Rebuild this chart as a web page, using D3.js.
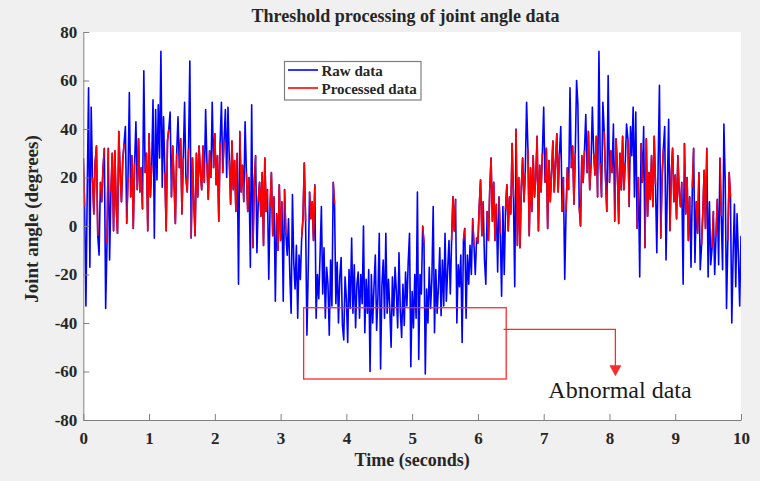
<!DOCTYPE html>
<html>
<head>
<meta charset="utf-8">
<script src="https://cdn.jsdelivr.net/npm/d3@7"></script>
<style>
  html, body { margin: 0; padding: 0; background: #f0f0f0; }
  svg { display: block; }
</style>
</head>
<body>
<svg id="chart" width="760" height="481"></svg>
<script>
// ---------------- data ----------------
const chartTitle = "Threshold processing of joint angle data";
const xAxisTitle = "Time (seconds)";
const yAxisTitle = "Joint angle (degrees)";
const seriesNames = ["Raw data", "Processed data"];
const sampleInterval = 0.02;           // seconds between samples
const thresholdLow = -10;              // processing thresholds (degrees)
const thresholdHigh = 40;
const xTickValues = [0, 1, 2, 3, 4, 5, 6, 7, 8, 9, 10];
const yTickValues = [-80, -60, -40, -20, 0, 20, 40, 60, 80];
const annotationText = "Abnormal data";

// raw joint angle, one value per sample (degrees), 0.2 s per row
const rawAngle = [
  28, 8, -33, 15, 57, -17, 49, 20, 5, 26,
  33, -4, -12, 18, 10, 24, 32, -34, -7, 32,
  -14, 14, 30, -2, 31, 8, -3, 39, 22, 10,
  27, 34, 41, 1, 20, 55, 12, 29, -1, 26,
  43, 15, 36, 14, 24, 7, 64, 22, 30, -2,
  38, 12, 25, 52, -5, 48, 19, 50, 28, 72,
  16, 45, 22, -2, 35, 40, 47, 12, 33, 18,
  1, 30, 45, 24, 36, 5, 28, 51, 20, 14,
  32, 68, -5, 28, 10, -4, 30, 12, 33, 22,
  15, 33, 18, 48, 26, 11, 31, 20, 51, 24,
  38, 17, 29, 2, 34, 51, 22, 35, 48, 20,
  49, 27, 9, 35, 15, 27, 6, 30, -24, 39,
  14, 25, 10, 43, 22, 6, 20, -17, 50, -9,
  18, 29, -11, 10, 18, 4, 22, -8, 28, 6,
  15, -22, 8, 22, -4, 12, -31, 5, -10, 17,
  -6, 10, -31, 15, -3, -12, 3, -20, -36, 13,
  -15, -26, -8, -38, -12, -22, -5, 3, 26, 2,
  -45, -18, 14, 3, 10, -6, 17, -38, -20, -30,
  -12, 8, -28, -9, -38, -17, -24, -45, -14, -33,
  18, 9, -32, -15, -40, -21, -13, -41, -47, -21,
  -30, -48, -18, -34, -5, -36, -16, -42, -24, -19,
  -38, -20, -32, 0, -44, -22, -36, -18, -60, -20,
  -40, -25, -12, -43, -29, -3, -59, -25, -14, -38,
  -3, -36, -22, -34, -50, -21, -37, -17, -27, -42,
  -11, -35, -46, -24, -41, -19, -33, -15, -3, -58,
  -27, -42, -20, -38, 14, -55, -20, -28, 0, -7,
  -61, -26, -40, -17, -34, -22, 8, -44, -18, -36,
  -25, -9, -37, -14, -33, -3, -31, -18, -6, -28,
  -6, 12, -2, 11, -40, -16, -25, -12, -48, -6,
  -1, -38, -12, -24, -8, -20, 3, -8, -20, -5,
  -7, 8, 19, -4, 10, -14, -24, 6, -6, 15,
  28, 2, 18, -6, 9, -19, 12, -3, -29, 8,
  -20, 7, 17, -2, 12, 5, 34, 12, -25, 40,
  -8, 20, -9, 16, 28, 10, 22, 51, 32, -4,
  24, 6, 29, 12, 20, 37, -2, 25, 14, 30,
  49, 18, 32, -1, 27, 10, 22, 35, 14, 26,
  38, 14, 30, 41, 6, 20, -22, 6, 24, 15,
  57, 24, 33, 9, 30, 60, 50, 8, 0, 29,
  18, 31, 46, 22, 39, 15, 26, 49, 30, 21,
  37, 12, 72, 26, 12, 51, 39, 20, 6, 62,
  18, 31, 22, 42, 2, 36, 24, 1, 30, 15,
  37, 15, 26, 42, 36, 8, 41, 29, 49, 12,
  47, -1, 20, -21, 34, 18, 41, -9, 36, 4,
  22, 11, 29, 8, 37, 17, -11, 25, 58, -5,
  20, 32, 41, -14, 16, 44, -2, 22, 32, 10,
  21, 3, 29, 14, 8, 18, -24, 34, 5, 20,
  -6, 12, -17, 16, 32, -15, 10, -3, 22, -18,
  -8, 6, 23, -1, 32, -21, 10, -16, -9, 6,
  -20, -4, 11, -16, 28, 4, -18, 42, 18, -34,
  -6, 22, 12, -40, -12, 9, -25, 5, -12, -33,
  -4
];

// annotation geometry in data units
const abnormalBox = { t0: 3.35, t1: 6.43, v0: -33.7, v1: -63.1 };
const callout = { tStart: 6.39, v: -42.6, tTurn: 8.09, vTip: -62 };
const labelPos = { t: 8.16, v: -70.9 };

// ---------------- derived series ----------------
const rawSeries = rawAngle.map((v, i) => ({ t: i * sampleInterval, v }));
const processedSeries = rawAngle.map((v, i) => ({
  t: i * sampleInterval,
  v: (v >= thresholdLow && v <= thresholdHigh) ? v : null
}));

// ---------------- layout ----------------
const svg = d3.select("#chart");
const W = 760, H = 481;
const plot = { left: 83.3, right: 741, top: 32, bottom: 420 };
const serif = "'Liberation Serif', 'Times New Roman', Times, serif";
const textColor = "#262626";
const axisColor = "#808080";

svg.append("rect").attr("width", W).attr("height", H).attr("fill", "#f0f0f0");
svg.append("rect")
  .attr("x", plot.left).attr("y", plot.top)
  .attr("width", plot.right - plot.left).attr("height", plot.bottom - plot.top)
  .attr("fill", "#ffffff");

const x = d3.scaleLinear().domain([0, 10]).range([plot.left, plot.right]);
const y = d3.scaleLinear().domain([-80, 80]).range([plot.bottom, plot.top]);

svg.append("defs").append("clipPath").attr("id", "plotClip")
  .append("rect")
  .attr("x", plot.left).attr("y", plot.top)
  .attr("width", plot.right - plot.left).attr("height", plot.bottom - plot.top);

// ---------------- lines ----------------
const line = d3.line()
  .defined(d => d.v !== null)
  .x(d => x(d.t))
  .y(d => y(d.v));

const lines = svg.append("g").attr("clip-path", "url(#plotClip)");
lines.append("path").datum(rawSeries)
  .attr("d", line)
  .attr("fill", "none").attr("stroke", "#0000ff")
  .attr("stroke-width", 1.6).attr("stroke-linejoin", "round");
lines.append("path").datum(processedSeries)
  .attr("d", line)
  .attr("fill", "none").attr("stroke", "#ff0000")
  .attr("stroke-width", 1.6).attr("stroke-linejoin", "round");

// ---------------- axes ----------------
const xAxis = d3.axisBottom(x).tickValues(xTickValues).tickFormat(d => String(d))
  .tickSizeInner(-6).tickSizeOuter(0).tickPadding(12);
const yAxis = d3.axisLeft(y).tickValues(yTickValues).tickFormat(d => String(d))
  .tickSizeInner(-6).tickSizeOuter(0).tickPadding(6);

const gx = svg.append("g").attr("transform", `translate(0,${plot.bottom})`).call(xAxis);
const gy = svg.append("g").attr("transform", `translate(${plot.left},0)`).call(yAxis);

[gx, gy].forEach(g => {
  g.select(".domain").attr("stroke", axisColor).attr("stroke-width", 1);
  g.selectAll(".tick line").attr("stroke", axisColor).attr("stroke-width", 1);
  g.selectAll(".tick text")
    .attr("fill", textColor)
    .style("font-family", serif)
    .style("font-weight", "bold")
    .style("font-size", "17px");
});

// ---------------- titles ----------------
svg.append("text")
  .attr("x", 405.5).attr("y", 22)
  .attr("text-anchor", "middle")
  .attr("fill", textColor)
  .style("font-family", serif).style("font-weight", "bold").style("font-size", "18px")
  .text(chartTitle);

svg.append("text")
  .attr("x", (plot.left + plot.right) / 2).attr("y", 466)
  .attr("text-anchor", "middle")
  .attr("fill", textColor)
  .style("font-family", serif).style("font-weight", "bold").style("font-size", "18px")
  .text(xAxisTitle);

svg.append("text")
  .attr("transform", `translate(38,219) rotate(-90)`)
  .attr("text-anchor", "middle")
  .attr("fill", textColor)
  .style("font-family", serif).style("font-weight", "bold").style("font-size", "19px")
  .text(yAxisTitle);

// ---------------- legend ----------------
const legend = svg.append("g");
legend.append("rect")
  .attr("x", 284.5).attr("y", 61.5).attr("width", 136.5).attr("height", 38.5)
  .attr("fill", "#ffffff").attr("stroke", "#7f7f7f").attr("stroke-width", 1.2);
const legendColors = ["#0000ff", "#ff0000"];
seriesNames.forEach((name, i) => {
  const ly = 70 + i * 18;
  legend.append("line")
    .attr("x1", 288).attr("x2", 318).attr("y1", ly).attr("y2", ly)
    .attr("stroke", legendColors[i]).attr("stroke-width", 1.6);
  legend.append("text")
    .attr("x", 321.5).attr("y", ly + 5.5)
    .attr("fill", textColor)
    .style("font-family", serif).style("font-weight", "bold").style("font-size", "15px")
    .text(name);
});

// ---------------- annotation ----------------
const annColor = "#ff2a2a";
const ann = svg.append("g");
ann.append("rect")
  .attr("x", x(abnormalBox.t0)).attr("y", y(abnormalBox.v0))
  .attr("width", x(abnormalBox.t1) - x(abnormalBox.t0))
  .attr("height", y(abnormalBox.v1) - y(abnormalBox.v0))
  .attr("fill", "none").attr("stroke", annColor).attr("stroke-width", 1.3);

const tipX = x(callout.tTurn), tipY = y(callout.vTip);
ann.append("path")
  .attr("d", `M${x(callout.tStart)},${y(callout.v)}H${tipX}V${tipY - 10}`)
  .attr("fill", "none").attr("stroke", annColor).attr("stroke-width", 1.3);
ann.append("path")
  .attr("d", `M${tipX - 6},${tipY - 11}L${tipX + 6},${tipY - 11}L${tipX},${tipY}Z`)
  .attr("fill", annColor);

svg.append("text")
  .attr("x", x(labelPos.t)).attr("y", y(labelPos.v))
  .attr("text-anchor", "middle")
  .attr("fill", "#1a1a1a")
  .style("font-family", serif).style("font-size", "24px")
  .text(annotationText);
</script>
</body>
</html>
